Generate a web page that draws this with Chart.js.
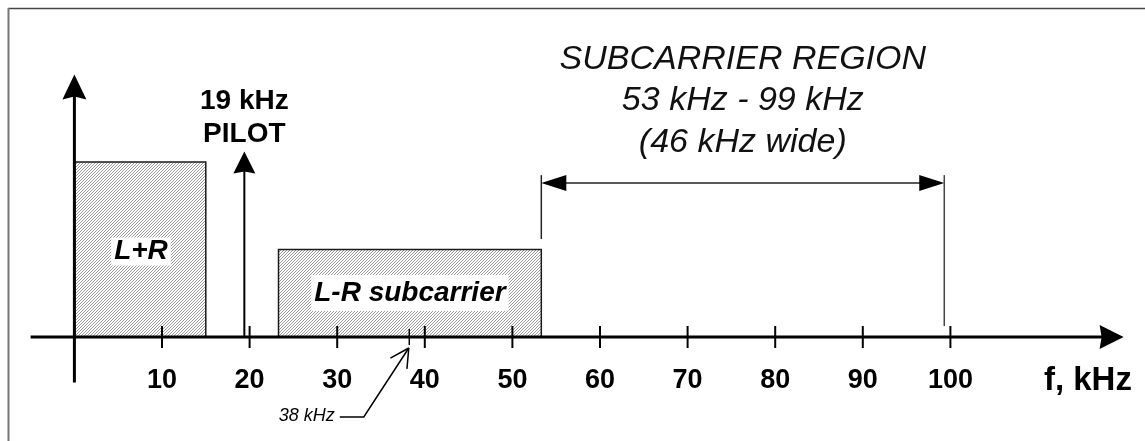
<!DOCTYPE html>
<html>
<head>
<meta charset="utf-8">
<script src="https://cdn.jsdelivr.net/npm/chart.js@4.4.1/dist/chart.umd.min.js"></script>
<style>
  html, body { margin: 0; padding: 0; background: #fff; }
</style>
</head>
<body>
<canvas id="spectrum" width="1145" height="441"></canvas>
<script>
// FM stereo baseband spectrum
const bandNames = ["L+R", "L-R subcarrier"];
const bandStart = [0, 23.3];
const bandEnd = [15, 53.3];
const bandLevel = [10, 5];
const bandLabelX = [7.6, 38.3];
const bandLabelY = [4.94, 2.57];

const pilotFreq = 19.4;
const pilotLevel = 10.6;
const pilotLabel = ["19 kHz", "PILOT"];

const tickValues = [10, 20, 30, 40, 50, 60, 70, 80, 90, 100];
const tickLabels = ["10", "20", "30", "40", "50", "60", "70", "80", "90", "100"];
const axisTitle = "f, kHz";

const regionStart = 53.3;
const regionEnd = 99.3;
const regionText = ["SUBCARRIER REGION", "53 kHz - 99 kHz", "(46 kHz wide)"];

const markerFreq = 38;
const markerText = "38 kHz";

const FONT = '"Liberation Sans", Arial, sans-serif';

function makeHatch(ctx) {
  const p = document.createElement("canvas");
  p.width = 3;
  p.height = 3;
  const g = p.getContext("2d");
  g.fillStyle = "#ffffff";
  g.fillRect(0, 0, 3, 3);
  g.fillStyle = "#9a9a9a";
  for (let i = 0; i < 3; i++) g.fillRect(i, 2 - i, 1, 1);
  return ctx.createPattern(p, "repeat");
}

// filled arrow head, ang = direction it points to
function head(ctx, tx, ty, ang, len, half, notch) {
  ctx.save();
  ctx.translate(tx, ty);
  ctx.rotate(ang);
  ctx.beginPath();
  ctx.moveTo(0, 0);
  ctx.lineTo(-len, -half);
  ctx.lineTo(-len + notch, 0);
  ctx.lineTo(-len, half);
  ctx.closePath();
  ctx.fill();
  ctx.restore();
}

function line(ctx, pts, w, color) {
  ctx.beginPath();
  ctx.moveTo(pts[0][0], pts[0][1]);
  for (let i = 1; i < pts.length; i++) ctx.lineTo(pts[i][0], pts[i][1]);
  ctx.lineWidth = w;
  ctx.strokeStyle = color;
  ctx.stroke();
}

const annotate = {
  id: "annotate",
  beforeDraw(c) {
    const ctx = c.ctx;
    ctx.save();
    line(ctx, [[8, 8.5], [c.width, 8.5]], 1.5, "#444");
    line(ctx, [[8.5, 8], [8.5, c.height]], 2, "#777");
    ctx.restore();
  },
  afterDatasetsDraw(c) {
    const ctx = c.ctx;
    const xs = c.scales.x, ys = c.scales.y;
    const px = (v) => xs.getPixelForValue(v);
    const py = (v) => ys.getPixelForValue(v);
    const x0 = px(0), y0 = py(0);
    ctx.save();
    ctx.fillStyle = "#000";

    // band labels on white
    ctx.font = "italic bold 28px " + FONT;
    ctx.textAlign = "center";
    ctx.textBaseline = "middle";
    bandNames.forEach((n, i) => {
      const w = ctx.measureText(n).width;
      const cx = px(bandLabelX[i]), cy = py(bandLabelY[i]);
      const h = i === 0 ? 28 : 36;
      ctx.fillStyle = "#fff";
      ctx.fillRect(cx - w / 2 - 3, cy - h / 2 + 1, w + 6, h);
      ctx.fillStyle = "#000";
      ctx.fillText(n, cx, cy + 1);
    });

    // x axis
    line(ctx, [[xs.left, y0], [xs.right - 6, y0]], 3, "#000");
    head(ctx, xs.right - 2, y0, 0, 24, 12, 2);
    // y axis
    line(ctx, [[x0, py(-2.6)], [x0, py(15) + 10]], 3, "#000");
    head(ctx, x0, py(15), -Math.PI / 2, 25, 12, 3);

    // ticks and labels
    tickValues.forEach((v) => line(ctx, [[px(v), y0 - 11], [px(v), y0 + 11]], 2, "#000"));
    ctx.font = "bold 27px " + FONT;
    tickValues.forEach((v, i) => ctx.fillText(tickLabels[i], px(v), y0 + 44));
    ctx.font = "bold 33px " + FONT;
    ctx.fillText(axisTitle, px(115.7), y0 + 44);

    // pilot
    head(ctx, px(pilotFreq), py(pilotLevel), -Math.PI / 2, 22, 11, 2);
    ctx.font = "bold 28px " + FONT;
    ctx.fillText(pilotLabel[0], px(pilotFreq), py(13.49));
    ctx.fillText(pilotLabel[1], px(pilotFreq), py(11.57));

    // subcarrier region
    const ra = px(regionStart), rb = px(regionEnd), ry = py(8.8);
    line(ctx, [[ra, py(9.25)], [ra, py(5.6)]], 1.5, "#222");
    line(ctx, [[rb, py(9.25)], [rb, py(0.63)]], 1.5, "#444");
    line(ctx, [[ra + 10, ry], [rb - 10, ry]], 1.5, "#222");
    head(ctx, ra, ry, Math.PI, 25, 8, 0);
    head(ctx, rb, ry, 0, 25, 8, 0);
    ctx.font = "italic 34px " + FONT;
    ctx.fillStyle = "#111";
    const tx = px(76.3);
    ctx.fillText(regionText[0], tx, py(15.83));
    ctx.fillText(regionText[1], tx, py(13.49));
    ctx.fillText(regionText[2], tx, py(11.11));

    // 38 kHz marker with leader
    const mx = px(markerFreq);
    line(ctx, [[mx + 2, y0 - 8], [mx + 2, y0 + 8]], 1.5, "#000");
    const tip = [mx + 1.5, y0 + 11];
    const corner = [tip[0] - 45, tip[1] + 69];
    const start = [corner[0] - 24, corner[1]];
    line(ctx, [start, corner, tip], 1.5, "#000");
    const back = Math.atan2(corner[1] - tip[1], corner[0] - tip[0]);
    [-0.49, 0.49].forEach((d) => {
      line(ctx, [tip, [tip[0] + 21 * Math.cos(back + d), tip[1] + 21 * Math.sin(back + d)]], 1.5, "#000");
    });
    ctx.font = "italic 18px " + FONT;
    ctx.fillStyle = "#000";
    ctx.textAlign = "right";
    ctx.fillText(markerText, start[0] - 5, corner[1] - 1);

    ctx.restore();
  },
};

const canvas = document.getElementById("spectrum");
const hatch = makeHatch(canvas.getContext("2d"));

const datasets = bandNames.map((n, i) => ({
  label: n,
  data: [
    { x: bandStart[i], y: 0 },
    { x: bandStart[i], y: bandLevel[i] },
    { x: bandEnd[i], y: bandLevel[i] },
    { x: bandEnd[i], y: 0 },
  ],
  borderColor: "#1a1a1a",
  borderWidth: 1.5,
  backgroundColor: hatch,
  fill: "origin",
  pointRadius: 0,
  tension: 0,
}));
datasets.push({
  label: "19 kHz pilot",
  data: [
    { x: pilotFreq, y: 0 },
    { x: pilotFreq, y: pilotLevel - 1 },
  ],
  borderColor: "#000",
  borderWidth: 2,
  fill: false,
  pointRadius: 0,
});

new Chart(canvas, {
  type: "line",
  data: { datasets },
  options: {
    responsive: false,
    animation: false,
    layout: { padding: { left: 30.6, right: 19.4, top: 22, bottom: 16.5 } },
    scales: {
      x: { type: "linear", min: -5, max: 120, display: false },
      y: { type: "linear", min: -5, max: 18, display: false },
    },
    plugins: {
      legend: { display: false },
      tooltip: { enabled: false },
    },
  },
  plugins: [annotate],
});
</script>
</body>
</html>
